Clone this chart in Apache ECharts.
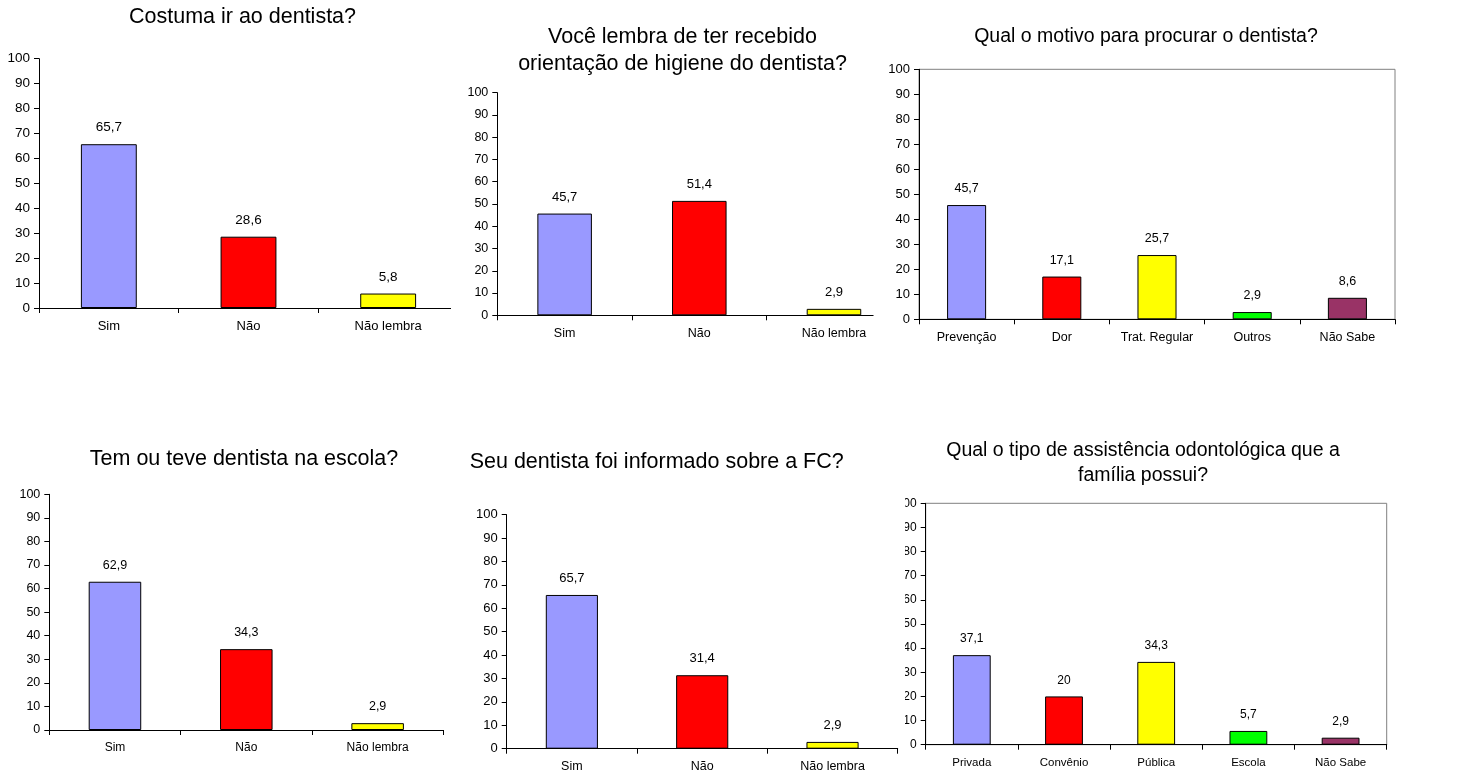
<!DOCTYPE html>
<html>
<head>
<meta charset="utf-8">
<script src="https://cdn.jsdelivr.net/npm/echarts@6/dist/echarts.min.js"></script>
<style>
html,body{margin:0;padding:0;background:#fff;}
#chart{width:1458px;height:775px;}
</style>
</head>
<body>
<div id="chart"></div>
<script>
// ---- data ----
const titles = [
  'Costuma ir ao dentista?',
  'Você lembra de ter recebido\norientação de higiene do dentista?',
  'Qual o motivo para procurar o dentista?',
  'Tem ou teve dentista na escola?',
  'Seu dentista foi informado sobre a FC?',
  'Qual o tipo de assistência odontológica que a\nfamília possui?'
];
const catsYesNo = ['Sim', 'Não', 'Não lembra'];
const catsMotivo = ['Prevenção', 'Dor', 'Trat. Regular', 'Outros', 'Não Sabe'];
const catsTipo = ['Privada', 'Convênio', 'Pública', 'Escola', 'Não Sabe'];
const valsCostuma = [65.7, 28.6, 5.8];
const valsOrientacao = [45.7, 51.4, 2.9];
const valsMotivo = [45.7, 17.1, 25.7, 2.9, 8.6];
const valsEscola = [62.9, 34.3, 2.9];
const valsInformado = [65.7, 31.4, 2.9];
const valsTipo = [37.1, 20, 34.3, 5.7, 2.9];
const yMin = 0, yMax = 100, yStep = 10;

// ---- styles / layout ----
const palette = ['#9999FF', '#FF0000', '#FFFF00', '#00FF00', '#993366'];
const FF = '"Liberation Sans", Arial, sans-serif';
const panels = [
  {cats: catsYesNo, vals: valsCostuma, grid: {left: 39, top: 58.7, width: 419, height: 249.3},
   title: {x: 242.5, top: 4, size: 21.5, lh: 26}, f: {tick: 13.5, cat: 13, data: 13.5}, bw: '40%', box: false},
  {cats: catsYesNo, vals: valsOrientacao, grid: {left: 497.3, top: 92.7, width: 404, height: 222.6},
   title: {x: 682.5, top: 24, size: 21.5, lh: 27}, f: {tick: 12.5, cat: 12.5, data: 13}, bw: '40.5%', box: false},
  {cats: catsMotivo, vals: valsMotivo, grid: {left: 919, top: 69.3, width: 476, height: 250},
   title: {x: 1146, top: 24, size: 19.5, lh: 26}, f: {tick: 13, cat: 12.5, data: 12.5}, bw: '41%', box: true},
  {cats: catsYesNo, vals: valsEscola, grid: {left: 49.3, top: 494.3, width: 394, height: 235.7},
   title: {x: 244, top: 446, size: 21.5, lh: 26}, f: {tick: 12.5, cat: 12, data: 12.5}, bw: '40%', box: false},
  {cats: catsYesNo, vals: valsInformado, grid: {left: 506.7, top: 514.7, width: 391, height: 234},
   title: {x: 656.7, top: 449, size: 21.5, lh: 26}, f: {tick: 13, cat: 12.5, data: 13}, bw: '40%', box: false},
  {cats: catsTipo, vals: valsTipo, grid: {left: 925.7, top: 503.3, width: 461, height: 241.4},
   title: {x: 1143, top: 438, size: 19.5, lh: 25}, f: {tick: 12, cat: 11.5, data: 12}, bw: '41%', box: true}
];

const option = {
  backgroundColor: '#fff',
  animation: false,
  title: [], grid: [], xAxis: [], yAxis: [], series: [],
  graphic: [
    {type: 'rect', z: 100, shape: {x: 451, y: 300, width: 12, height: 18}, style: {fill: '#fff'}},
    {type: 'rect', z: 100, shape: {x: 873.5, y: 311, width: 28.5, height: 10}, style: {fill: '#fff'}},
    {type: 'rect', z: 100, shape: {x: 878, y: 492, width: 27, height: 246}, style: {fill: '#fff'}}
  ]
};

panels.forEach((p, i) => {
  option.title.push({
    text: titles[i], left: p.title.x, top: p.title.top, textAlign: 'center', padding: 0,
    textStyle: {fontFamily: FF, fontSize: p.title.size, fontWeight: 'normal', color: '#000', lineHeight: p.title.lh}
  });
  option.grid.push(Object.assign({
    show: p.box, borderColor: '#808080', borderWidth: 1, backgroundColor: 'transparent', z: 0
  }, p.grid));
  option.xAxis.push({
    type: 'category', gridIndex: i, data: p.cats, z: 3,
    axisLine: {show: true, lineStyle: {color: '#000', width: 1}},
    axisTick: {show: true, length: 5, lineStyle: {color: '#000'}},
    axisLabel: {fontFamily: FF, fontSize: p.f.cat, color: '#000', margin: 12, lineHeight: p.f.cat, interval: 0},
    splitLine: {show: false}
  });
  option.yAxis.push({
    type: 'value', gridIndex: i, min: yMin, max: yMax, interval: yStep, z: 3,
    axisLine: {show: true, lineStyle: {color: '#000', width: 1}},
    axisTick: {show: true, length: 5, lineStyle: {color: '#000'}},
    axisLabel: {fontFamily: FF, fontSize: p.f.tick, color: '#000', margin: 9},
    splitLine: {show: false}
  });
  option.series.push({
    type: 'bar', xAxisIndex: i, yAxisIndex: i, data: p.vals, barWidth: p.bw,
    itemStyle: {color: (d) => palette[d.dataIndex], borderColor: '#000', borderWidth: 1},
    label: {
      show: true, position: 'top', distance: 10,
      fontFamily: FF, fontSize: p.f.data, color: '#000', lineHeight: p.f.data,
      formatter: (d) => String(d.value).replace('.', ',')
    }
  });
});

const chart = echarts.init(document.getElementById('chart'), null, {renderer: 'canvas'});
chart.setOption(option);
</script>
</body>
</html>
